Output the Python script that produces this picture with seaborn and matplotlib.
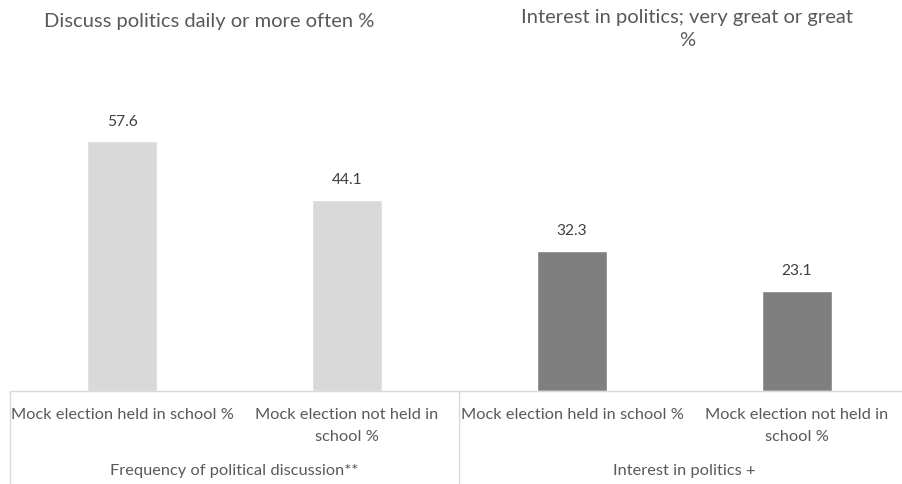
import matplotlib
matplotlib.use("Agg")
import matplotlib.pyplot as plt
import seaborn as sns
import pandas as pd

categories = ["Mock election held in school %", "Mock election not held in\nschool %",
              "Mock election held in school %", "Mock election not held in\nschool %"]
keys = ["a1", "a2", "b1", "b2"]
groups = ["Frequency of political discussion**", "Frequency of political discussion**",
          "Interest in politics +", "Interest in politics +"]
values = [57.6, 44.1, 32.3, 23.1]
group_titles = ["Discuss politics daily or more often %",
                "Interest in politics; very great or great\n%"]
group_names = ["Frequency of political discussion**", "Interest in politics +"]
colors = {"Frequency of political discussion**": "#d9d9d9", "Interest in politics +": "#7f7f7f"}

sns.set_theme(style="white")
FONT = ["Lato", "DejaVu Sans"]
plt.rcParams["font.family"] = FONT
TXT = "#595959"

df = pd.DataFrame({"key": keys, "value": values, "group": groups})

fig = plt.figure(figsize=(9.03, 4.84), dpi=100)
W, H = 903, 484
ax = fig.add_axes([9.5 / W, 93 / H, 900 / W, 303.8 / H])
sns.barplot(data=df, x="key", y="value", hue="group", palette=colors, order=keys,
            dodge=False, width=0.31, ax=ax, legend=False, saturation=1)
ax.set_xlim(-0.5, 3.5)
ax.set_ylim(0, 70)
ax.set_xlabel("")
ax.set_ylabel("")
ax.set_yticks([])
ax.set_xticks(range(4))
ax.set_xticklabels(categories, fontsize=11.8, color=TXT, linespacing=1.65)
ax.tick_params(axis="x", length=0, pad=12.5)
for s in ["top", "left", "right"]:
    ax.spines[s].set_visible(False)
ax.spines["bottom"].set_color("#d9d9d9")
ax.spines["bottom"].set_linewidth(1)

for c in ax.containers:
    ax.bar_label(c, fmt="%.1f", padding=9, fontsize=11.2, color="#404040")

# group labels and separators
for i, name in enumerate(group_names):
    ax.annotate(name, xy=(2 * i + 0.5, 0), xycoords=("data", "axes fraction"),
                xytext=(0, -80 * 0.72), textcoords="offset points",
                ha="center", va="center", fontsize=11.8, color=TXT)
for xs in [-0.5, 1.5, 3.5]:
    ax.plot([xs, xs], [0, -93 / 303.8], transform=ax.get_xaxis_transform(),
            color="#d9d9d9", lw=1, clip_on=False)

# panel titles
fig.text(209 / W, 1 - 21 / H, group_titles[0], ha="center", va="center",
         fontsize=14.5, color=TXT)
fig.text(687 / W, 1 - 29 / H, group_titles[1], ha="center", va="center",
         fontsize=14.5, color=TXT, linespacing=1.45)

fig.savefig("out.png", dpi=100)
